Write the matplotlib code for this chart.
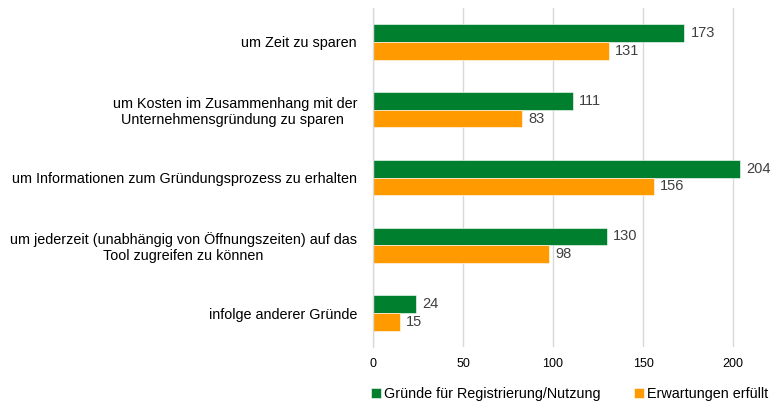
import matplotlib
matplotlib.use('Agg')
import matplotlib.pyplot as plt
import numpy as np

plt.rcParams['font.family'] = ['Liberation Sans', 'DejaVu Sans']

categories = [
    'um Zeit zu sparen',
    'um Kosten im Zusammenhang mit der\nUnternehmensgründung zu sparen ',
    'um Informationen zum Gründungsprozess zu erhalten',
    'um jederzeit (unabhängig von Öffnungszeiten) auf das\nTool zugreifen zu können',
    'infolge anderer Gründe',
]
gruende = [173, 111, 204, 130, 24]
erfuellt = [131, 83, 156, 98, 15]
series_names = ['Gründe für Registrierung/Nutzung', 'Erwartungen erfüllt']
xticks = [0, 50, 100, 150, 200]

green = '#00802F'
orange = '#FF9A00'

fig = plt.figure(figsize=(7.73, 4.03), dpi=100)
ax = fig.add_axes([373 / 773, 1 - 347 / 403, 397 / 773, 339 / 403])

y = np.arange(len(categories))
h = 0.26
b1 = ax.barh(y - h / 2, gruende, height=h, color=green, edgecolor='white', linewidth=0.4,
             label=series_names[0])
b2 = ax.barh(y + h / 2, erfuellt, height=h, color=orange, edgecolor='white', linewidth=0.4,
             label=series_names[1])

for bars, vals in ((b1, gruende), (b2, erfuellt)):
    for bar, v in zip(bars, vals):
        ax.text(bar.get_width() + 3.5, bar.get_y() + bar.get_height() / 2, str(v),
                va='center', ha='left', fontsize=10.5, color='#404040')

ax.set_ylim(len(categories) - 0.5, -0.5)
ax.set_xlim(0, 220.5)
ax.set_xticks(xticks)
ax.set_xticklabels([str(t) for t in xticks], fontsize=9, color='#000000')
ax.set_yticks(y)
ax.set_yticklabels(categories, fontsize=10.4, multialignment='center')
ax.tick_params(axis='both', length=0)
ax.tick_params(axis='y', pad=11.5)
ax.tick_params(axis='x', pad=8)

ax.grid(axis='x', color='#d9d9d9', linewidth=1)
ax.set_axisbelow(True)
for s in ['top', 'right', 'bottom']:
    ax.spines[s].set_visible(False)
ax.spines['left'].set_color('#d9d9d9')
ax.spines['left'].set_linewidth(1)

fig.legend(handles=[b1, b2], loc='lower left', bbox_to_anchor=(361 / 773, -0.02),
           ncol=2, frameon=False, fontsize=10.4, handlelength=0.7, handleheight=0.7,
           handletextpad=0.2, columnspacing=2.3, borderaxespad=0.3)

fig.savefig('out.png', dpi=100)
